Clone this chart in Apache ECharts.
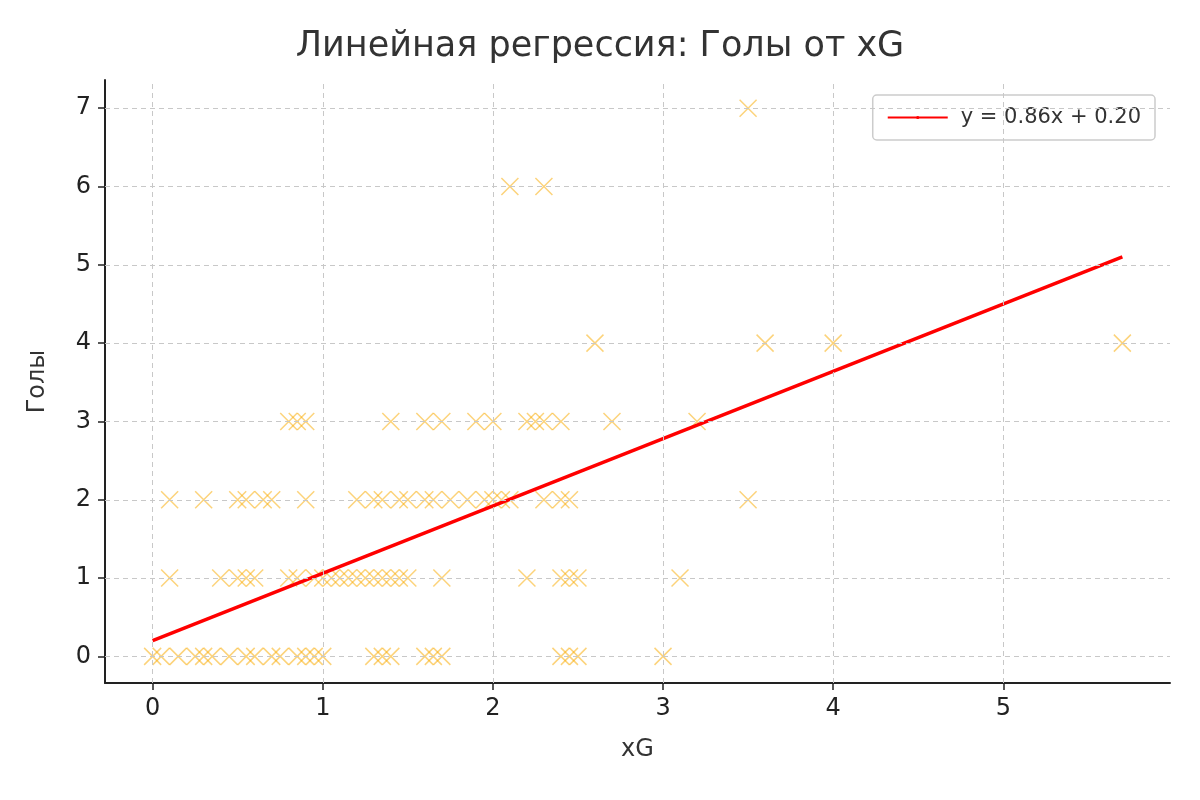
<!DOCTYPE html>
<html><head><meta charset="utf-8">
<script src="https://cdn.jsdelivr.net/npm/echarts@6/dist/echarts.min.js"></script>
<style>html,body{margin:0;background:#fff}#c{width:1200px;height:800px}</style>
</head><body><div id="c"></div>
<script>
const goals0 = [0,0.05,0.15,0.25,0.3,0.35,0.45,0.55,0.6,0.7,0.75,0.85,0.9,0.95,1.0,1.3,1.35,1.4,1.6,1.65,1.7,2.4,2.45,2.5,3.0];
const goals1 = [0.1,0.4,0.5,0.55,0.6,0.8,0.85,0.95,1.0,1.05,1.1,1.15,1.2,1.25,1.3,1.35,1.4,1.45,1.5,1.7,2.2,2.4,2.45,2.5,3.1];
const goals2 = [0.1,0.3,0.5,0.55,0.65,0.7,0.9,1.2,1.3,1.35,1.45,1.5,1.6,1.65,1.75,1.85,1.95,2.0,2.05,2.1,2.3,2.4,2.45,3.5];
const goals3 = [0.8,0.85,0.9,1.4,1.6,1.7,1.9,2.0,2.2,2.25,2.3,2.4,2.7,3.2];
const goals4 = [2.6,3.6,4.0,5.7];
const goals6 = [2.1,2.3];
const goals7 = [3.5];
const xTicks = [0,1,2,3,4,5];
const yTicks = [0,1,2,3,4,5,6,7];
const slope = 0.86, intercept = 0.20, xStart = 0, xEnd = 5.7;

const rows = [[0,goals0],[1,goals1],[2,goals2],[3,goals3],[4,goals4],[6,goals6],[7,goals7]];
const points = [];
rows.forEach(([g, xs]) => xs.forEach(x => points.push([x, g])));

const cross = 'path://M0,0L10,10M10,0L0,10';
const chart = echarts.init(document.getElementById('c'));
const font = 'DejaVu Sans';
chart.setOption({
  animation: false,
  textStyle: {fontFamily: font},
  title: {text: 'Линейная регрессия: Голы от xG', left: 'center', top: 24,
    textStyle: {fontSize: 35, fontWeight: 'normal', color: '#333', fontFamily: font}},
  grid: {left: 105, right: 30, top: 80, bottom: 117},
  legend: {right: 45, top: 95, orient: 'vertical', data: ['y = 0.86x + 0.20'],
    itemWidth: 60, itemHeight: 4, itemGap: 0, padding: [12, 14], borderColor: '#ccc', borderWidth: 1.5, borderRadius: 4,
    textStyle: {fontSize: 21, color: '#333', padding: [0, 0, 0, 8]}},
  xAxis: {type: 'value', min: -0.28, max: 5.98, interval: 1,
    name: 'xG', nameLocation: 'middle', nameGap: 55, nameTextStyle: {fontSize: 24, color: '#333'},
    axisLine: {onZero: false, lineStyle: {color: '#222', width: 2}},
    axisTick: {show: true, length: 7, lineStyle: {color: '#222', width: 1.5}, customValues: xTicks},
    axisLabel: {fontSize: 24, color: '#222', margin: 14, customValues: xTicks},
    splitLine: {show: false}},
  yAxis: {type: 'value', min: -0.34, max: 7.36,
    name: 'Голы', nameLocation: 'middle', nameGap: 55, nameTextStyle: {fontSize: 24, color: '#333'},
    axisLine: {show: true, onZero: false, lineStyle: {color: '#222', width: 2}},
    axisTick: {show: true, length: 7, lineStyle: {color: '#222', width: 1.5}, customValues: yTicks},
    axisLabel: {fontSize: 24, color: '#222', margin: 14, customValues: yTicks},
    splitLine: {show: false}},
  series: [
    {type: 'line', silent: true, data: [], markLine: {symbol: 'none', silent: true, label: {show: false},
      lineStyle: {type: [5, 4], color: '#c8c8c8', width: 1},
      data: xTicks.map(v => ({xAxis: v})).concat(yTicks.map(v => ({yAxis: v})))}},
    {type: 'scatter', data: points, symbol: cross, symbolSize: 17,
      itemStyle: {color: 'none', borderColor: 'rgba(250,170,0,0.65)', borderWidth: 1.5}},
    {name: 'y = 0.86x + 0.20', type: 'line', showSymbol: false, symbol: 'none',
      data: [[xStart, slope*xStart+intercept],[xEnd, slope*xEnd+intercept]],
      lineStyle: {color: '#ff0000', width: 3.5}, itemStyle: {color: '#ff0000'}}
  ]
});
</script></body></html>
